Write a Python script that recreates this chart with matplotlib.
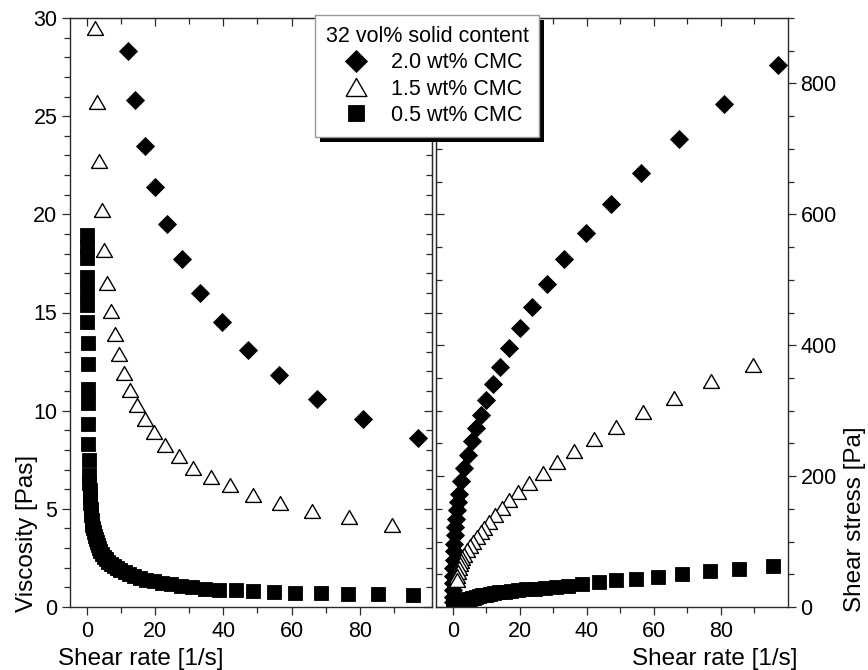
import matplotlib.pyplot as plt
from matplotlib.patches import Rectangle
from matplotlib.ticker import FixedLocator, MultipleLocator
from matplotlib.transforms import IdentityTransform

plt.rcParams["font.family"] = ["Liberation Sans", "DejaVu Sans"]

# 2.0 wt% CMC (diamonds)
rate_20 = [97, 81, 67.4, 56.2, 47.1, 39.7, 33.2, 28.0, 23.6, 20.0, 16.9, 14.2, 12.0,
           9.8, 8.3, 6.8, 5.6, 4.4, 3.4, 2.6, 1.9, 1.5, 1.2, 0.95, 0.75, 0.6, 0.45,
           0.35, 0.25, 0.18, 0.12, 0.08, 0.05, 0.03, 0.02]
stress_20 = [828, 768, 715, 663, 616, 572, 531, 494, 459, 426, 396, 367, 340,
             317, 294, 274, 253, 233, 213, 192, 172, 160, 148, 135, 122, 110, 97,
             85, 72, 60, 48, 37, 26, 16, 7]
# viscosity only for the points that fall inside the 0-30 Pas window
visc_20 = [8.6, 9.6, 10.6, 11.8, 13.1, 14.5, 16.0, 17.7, 19.5, 21.4, 23.5, 25.8, 28.3]

# 1.5 wt% CMC (open triangles)
rate_15 = [89.6, 76.9, 66.0, 56.6, 48.8, 42.0, 36.3, 31.2, 26.9, 22.8, 19.6, 16.9,
           14.7, 12.7, 10.9, 9.4, 8.3, 7.1, 6.0, 5.1, 4.3, 3.5, 2.9, 2.4,
           2.1, 1.85, 1.6, 1.4, 1.2]
stress_15 = [370, 345, 320, 298, 275, 257, 238, 221, 205, 190, 176, 164,
             152, 141, 130, 121, 115, 107, 99, 93, 87, 80, 75, 71,
             66, 60, 54, 48, 42]
visc_15 = [4.2, 4.6, 4.9, 5.3, 5.7, 6.2, 6.6, 7.1, 7.7, 8.25, 8.9, 9.6,
           10.3, 11.05, 11.9, 12.9, 13.9, 15.1, 16.5, 18.2, 20.2, 22.7, 25.7, 29.5]

# 0.5 wt% CMC (squares)
rate_05 = [95.5, 85.5, 76.6, 68.5, 61.1, 54.8, 48.8, 43.7, 38.7,
           34.5, 30.8, 27.5, 24.5, 21.9, 19.5, 17.4, 15.5, 13.9, 12.4,
           11.0, 9.8, 8.8, 7.8, 7.0, 6.2, 5.6, 5.0, 4.4, 3.9,
           3.5, 3.1, 2.8, 2.5, 2.2, 2.0, 1.8, 1.6, 1.4, 1.25,
           1.1, 1.0, 0.9, 0.8, 0.7, 0.6, 0.5, 0.4, 0.33, 0.27,
           0.22, 0.18, 0.15, 0.12, 0.1, 0.08, 0.06, 0.05, 0.04, 0.03]
visc_05 = [0.63, 0.65, 0.68, 0.70, 0.73, 0.77, 0.82, 0.85, 0.89,
           0.93, 1.0, 1.07, 1.15, 1.24, 1.32, 1.40, 1.50, 1.60, 1.70,
           1.80, 1.90, 2.0, 2.1, 2.2, 2.3, 2.42, 2.55, 2.7, 2.85,
           3.0, 3.15, 3.3, 3.45, 3.6, 3.8, 4.0, 4.2, 4.45, 4.7,
           5.0, 5.3, 5.6, 5.95, 6.3, 6.7, 7.5, 8.3, 9.3, 10.4,
           11.1, 12.4, 13.45, 14.5, 15.4, 16.1, 16.8, 17.8, 18.35, 18.95]
stress_05 = [62, 58, 54.5, 50, 46.5, 43, 40.5, 37.5, 34.5,
             32, 30.5, 29.4, 28.2, 27.2, 25.7, 24.4, 23.3, 22.2, 21.1,
             19.8, 18.6, 17.6, 16.4, 15.4, 14.3, 13.6, 12.8, 11.9, 11.1,
             10.5, 9.8, 9.2, 8.6, 7.9, 7.6, 7.2, 6.7, 6.2, 5.9,
             5.5, 5.3, 5.0, 4.8, 4.4, 4.0, 3.8, 3.3, 3.1, 2.8,
             2.4, 2.2, 2.0, 1.7, 1.5, 1.3, 1.0, 0.9, 0.7, 0.6]

legend_title = "32 vol% solid content"
labels = ["2.0 wt% CMC", "1.5 wt% CMC", "0.5 wt% CMC"]

# equilateral triangle marker, centred on its bounding box
tri = [(-1, -0.866), (1, -0.866), (0, 0.866), (-1, -0.866)]
styles = [
    dict(marker="D", ms=8.9, mfc="black", mec="black", mew=0.6),
    dict(marker=tri, ms=11.5, mfc="white", mec="black", mew=1.0),
    dict(marker="s", ms=9.4, mfc="black", mec="black", mew=0.6),
]

W, H = 868, 670
fig = plt.figure(figsize=(W / 100, H / 100), dpi=100)
ax1 = fig.add_axes([70 / W, 1 - 607 / H, (432 - 70) / W, (607 - 18) / H])
ax2 = fig.add_axes([436 / W, 1 - 607 / H, (788 - 436) / W, (607 - 18) / H])

series = [
    (rate_20, visc_20, stress_20),
    (rate_15, visc_15, stress_15),
    (rate_05, visc_05, stress_05),
]
handles = []
for (rate, visc, stress), st, lab in zip(series, styles, labels):
    h, = ax1.plot(rate[:len(visc)], visc, ls="none", label=lab, **st)
    ax2.plot(rate, stress, ls="none", **st)
    handles.append(h)

ax1.set_xlim(-5, 101.2)
ax1.set_ylim(0, 30)
ax2.set_xlim(-5, 100)
ax2.set_ylim(0, 900)

spine_col = "#2a2a2a"
tick_kw = dict(labelsize=15.5, width=0.9, color=spine_col)
xmaj = FixedLocator([0, 20, 40, 60, 80])
xmin = FixedLocator([10, 30, 50, 70, 90])

for ax in (ax1, ax2):
    for s in ax.spines.values():
        s.set_color(spine_col)
        s.set_linewidth(1.0)
    ax.xaxis.set_major_locator(xmaj)
    ax.xaxis.set_minor_locator(xmin)
    ax.tick_params(which="both", direction="out", top=False, **tick_kw)
    ax.tick_params(which="major", length=6, pad=4)
    ax.tick_params(which="minor", length=4)
    top = ax.secondary_xaxis("top")
    top.xaxis.set_major_locator(xmaj)
    top.xaxis.set_minor_locator(xmin)
    top.tick_params(which="both", direction="in", labeltop=False, width=0.9, color=spine_col)
    top.tick_params(which="major", length=6)
    top.tick_params(which="minor", length=4)
    top.spines["top"].set_color(spine_col)

# left panel: viscosity
ax1.yaxis.set_major_locator(MultipleLocator(5))
ax1.yaxis.set_minor_locator(MultipleLocator(1))
ax1.tick_params(axis="y", which="both", right=False)
ax1.tick_params(axis="y", which="major", pad=3)
r = ax1.secondary_yaxis("right")
r.yaxis.set_major_locator(MultipleLocator(5))
r.yaxis.set_minor_locator(MultipleLocator(1))
r.tick_params(which="both", direction="in", labelright=False, width=0.9, color=spine_col)
r.tick_params(which="major", length=6)
r.tick_params(which="minor", length=4)

# right panel: shear stress
ax2.yaxis.tick_right()
ax2.yaxis.set_major_locator(MultipleLocator(200))
ax2.yaxis.set_minor_locator(MultipleLocator(50))
ax2.tick_params(axis="y", which="both", left=False)
ax2.tick_params(axis="y", which="major", pad=3)
l = ax2.secondary_yaxis("left")
l.yaxis.set_major_locator(MultipleLocator(200))
l.yaxis.set_minor_locator(MultipleLocator(50))
l.tick_params(which="both", direction="in", labelleft=False, width=0.9, color=spine_col)
l.tick_params(which="major", length=6)
l.tick_params(which="minor", length=4)

# axis labels
lab_kw = dict(fontsize=17.5)
ax1.set_xlabel("Shear rate [1/s]", ha="left", va="baseline", **lab_kw)
ax1.xaxis.set_label_coords((58 - 70) / 362, (607 - 665) / 589)
ax2.set_xlabel("Shear rate [1/s]", ha="right", va="baseline", **lab_kw)
ax2.xaxis.set_label_coords((797 - 436) / 352, (607 - 665) / 589)

ax1.set_ylabel("Viscosity [Pas]", ha="left", va="baseline", **lab_kw)
ax1.yaxis.set_label_coords((33 - 70) / 362, (607 - 612) / 589)
ax2.yaxis.set_label_position("right")
ax2.set_ylabel("Shear stress [Pa]", **lab_kw)
ax2.yaxis.label.set_ha("left")
ax2.yaxis.label.set_va("baseline")
ax2.yaxis.label.set_rotation(90)
ax2.yaxis.set_label_coords((861 - 436) / 352, (607 - 612) / 589)

leg = fig.legend(handles=handles, title=legend_title, loc="upper left",
                 bbox_to_anchor=(315 / W, 1 - 15 / H), borderaxespad=0,
                 fontsize=15.5, title_fontsize=15.5, markerscale=1.3,
                 fancybox=False, framealpha=1, edgecolor="#999999",
                 borderpad=0.5, labelspacing=0.25, handlelength=2.2,
                 handletextpad=0.55)
leg.get_frame().set_linewidth(1.0)

# dark drop shadow behind the legend box
fig.canvas.draw()
bb = leg.get_frame().get_window_extent()
shadow = Rectangle((bb.x0 + 5, bb.y0 - 5), bb.width, bb.height,
                   transform=IdentityTransform(), facecolor="black",
                   edgecolor="none", zorder=4.9)
fig.add_artist(shadow)

fig.savefig("out.png", dpi=100)
